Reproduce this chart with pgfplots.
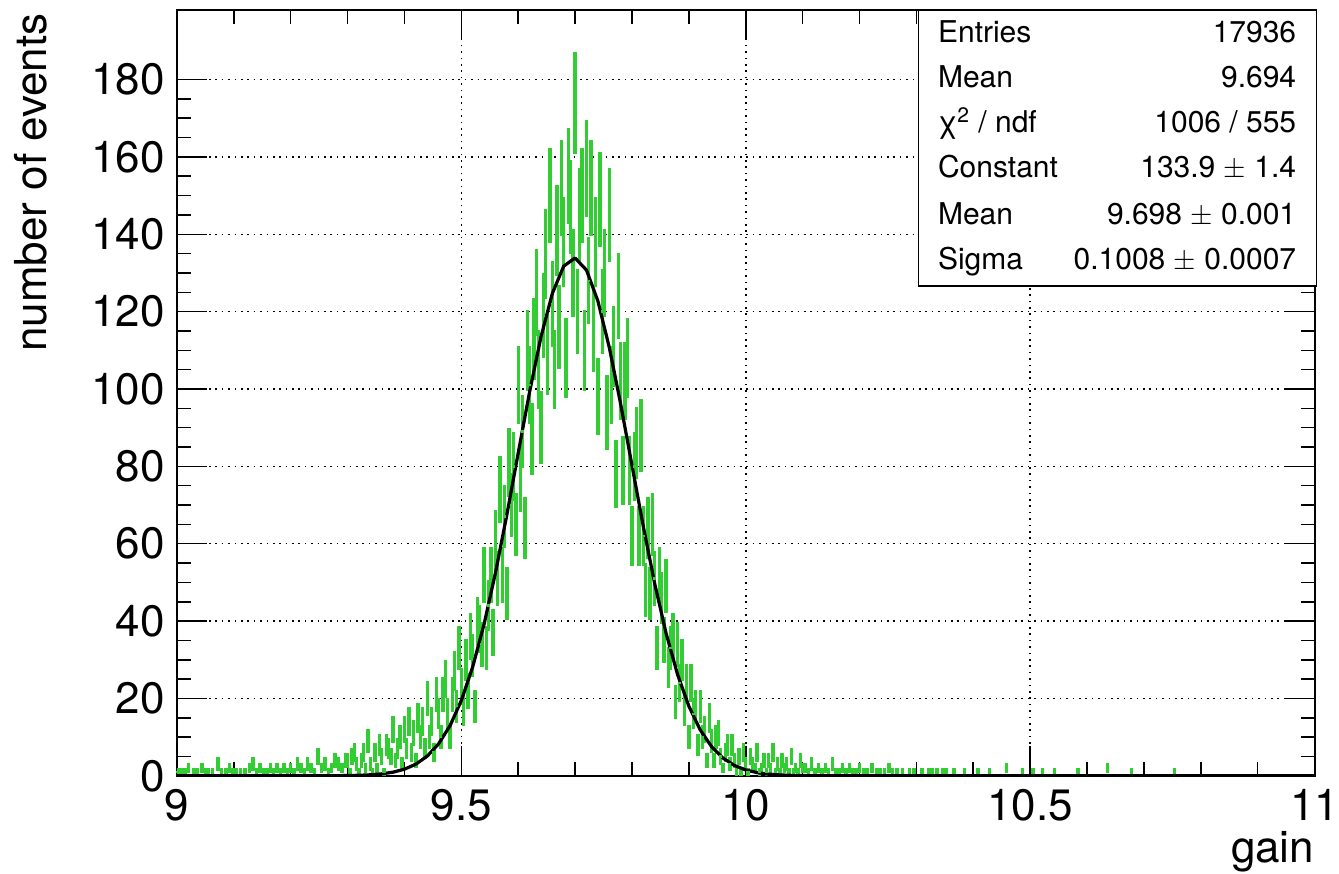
\documentclass[border=0pt]{standalone}
\usepackage{fontspec}
\setmainfont{TeX Gyre Heros}
\usepackage{pgfplots}
\usepackage{pgfplotstable}
\pgfplotsset{compat=1.18}
\definecolor{hgreen}{RGB}{50,205,50}

\pgfplotstableread{
x y
9.002 1
9.008 1
9.014 1
9.020 2
9.030 1
9.036 1
9.044 2
9.050 1
9.056 1
9.062 1
9.072 3
9.078 1
9.086 1
9.092 2
9.098 1
9.104 1
9.112 1
9.120 1
9.128 2
9.134 3
9.140 1
9.146 2
9.152 1
9.158 1
9.164 2
9.170 1
9.176 2
9.182 1
9.188 2
9.194 1
9.200 2
9.206 1
9.212 3
9.218 2
9.224 1
9.230 3
9.236 2
9.242 1
9.248 5
9.254 2
9.260 3
9.266 1
9.272 2
9.278 4
9.284 3
9.290 2
9.296 4
9.300 4
9.304 1
9.308 5
9.312 6
9.316 3
9.320 1
9.324 4
9.328 6
9.332 2
9.336 9
9.340 3
9.344 1
9.348 6
9.352 2
9.356 8
9.360 5
9.364 1
9.368 8
9.372 7
9.376 5
9.380 12
9.384 4
9.388 7
9.392 10
9.396 3
9.400 12
9.404 7
9.408 14
9.412 6
9.416 11
9.420 4
9.424 15
9.428 10
9.432 14
9.436 7
9.440 20
9.444 10
9.448 14
9.452 6
9.456 21
9.460 16
9.464 10
9.468 21
9.472 25
9.476 16
9.480 10
9.484 21
9.488 27
9.492 18
9.496 33
9.500 23
9.504 17
9.508 30
9.512 22
9.516 36
9.520 31
9.524 18
9.528 40
9.532 38
9.536 34
9.540 52
9.544 33
9.548 44
9.552 52
9.556 37
9.560 61
9.564 51
9.568 74
9.572 52
9.576 67
9.580 47
9.584 81
9.588 70
9.592 80
9.596 65
9.600 101
9.604 77
9.608 89
9.612 64
9.616 110
9.620 101
9.624 87
9.628 113
9.632 125
9.636 105
9.640 90
9.644 119
9.648 135
9.652 109
9.656 150
9.660 122
9.664 105
9.668 141
9.672 116
9.676 152
9.680 138
9.684 108
9.688 155
9.692 147
9.696 130
9.700 174
9.704 120
9.708 145
9.712 150
9.716 110
9.720 157
9.724 128
9.728 152
9.732 115
9.736 138
9.740 98
9.744 149
9.748 120
9.752 130
9.756 94
9.760 145
9.764 101
9.768 111
9.772 78
9.776 124
9.780 102
9.784 79
9.788 102
9.792 108
9.796 79
9.800 62
9.804 80
9.808 86
9.812 62
9.816 88
9.820 62
9.824 48
9.828 64
9.832 47
9.836 65
9.840 51
9.844 33
9.848 52
9.852 46
9.856 35
9.860 49
9.864 28
9.868 33
9.872 36
9.876 19
9.880 34
9.884 24
9.888 30
9.892 17
9.896 24
9.900 10
9.904 24
9.908 16
9.912 18
9.916 8
9.920 18
9.924 10
9.928 12
9.932 4
9.936 15
9.940 9
9.944 4
9.948 10
9.952 11
9.956 5
9.960 2
9.964 6
9.968 8
9.972 3
9.976 8
9.980 4
9.984 1
9.988 5
9.992 1
9.996 6
10.000 3
10.004 1
10.008 5
10.012 3
10.016 2
10.020 6
10.024 1
10.028 2
10.032 4
10.036 1
10.040 4
10.044 2
10.048 6
10.052 1
10.056 3
10.060 1
10.064 4
10.068 2
10.072 3
10.076 1
10.080 5
10.084 1
10.088 2
10.092 1
10.096 4
10.100 2
10.104 2
10.110 1
10.116 3
10.122 1
10.128 2
10.134 1
10.140 2
10.146 1
10.152 3
10.158 1
10.164 1
10.170 2
10.176 1
10.182 2
10.188 1
10.194 1
10.200 2
10.208 1
10.214 1
10.222 2
10.230 1
10.236 1
10.244 1
10.252 2
10.258 1
10.266 1
10.276 1
10.288 1
10.296 1
10.310 1
10.322 1
10.328 1
10.336 1
10.346 1
10.352 1
10.366 1
10.385 1
10.408 1
10.429 1
10.458 2
10.487 1
10.505 1
10.522 1
10.543 1
10.584 1
10.636 2
10.678 1
10.754 1
}\hist

\begin{document}
\begin{tikzpicture}
\begin{axis}[
  scale only axis, width=569pt, height=383pt,
  at={(0,0)}, anchor=south west,
  xmin=9, xmax=11, ymin=0, ymax=198,
  xtick={9,9.5,10,10.5,11},
  ytick={0,20,40,60,80,100,120,140,160,180},
  minor x tick num=4, minor y tick num=3,
  tick align=inside,
  xtick pos=both, ytick pos=both,
  major tick length=15pt, minor tick length=7pt,
  every tick/.style={black, line width=0.8pt},
  axis line style={line width=1pt},
  grid=major,
  major grid style={black, line width=0.8pt, dash pattern=on 0.8pt off 2.4pt},
  /pgf/number format/assume math mode=true,
  ticklabel style={font=\fontsize{22}{26}\selectfont, inner sep=0pt},
  xticklabel style={anchor=north, yshift=-6.5pt},
  yticklabel style={anchor=east, xshift=-6pt},
  clip=true,
]
\addplot[hgreen, only marks, mark=-, mark size=0.8pt, mark options={line width=1.2pt, draw=hgreen, fill=hgreen},
  error bars/.cd, y dir=both, y explicit, error mark=none,
  error bar style={line width=1.7pt, hgreen}]
  table[x=x, y=y, y error expr=sqrt(\thisrow{y})] {\hist};
\addplot[black, line width=1.6pt, line join=round] coordinates {
(9.00,0) (9.20,0) (9.28,0.02) (9.30,0.055) (9.32,0.118) (9.34,0.244) (9.36,0.485)
(9.38,0.924) (9.40,1.69) (9.42,2.99) (9.44,5.06) (9.46,8.24) (9.48,12.91)
(9.50,19.46) (9.52,28.17) (9.54,39.21) (9.56,52.46) (9.58,67.47) (9.60,83.47)
(9.62,99.26) (9.64,113.47) (9.66,124.72) (9.68,131.78) (9.70,133.87) (9.72,130.75)
(9.74,122.77) (9.76,110.82) (9.78,96.18) (9.80,80.25) (9.82,64.38) (9.84,49.64)
(9.86,36.81) (9.88,26.24) (9.90,17.98) (9.92,11.84) (9.94,7.50) (9.96,4.57)
(9.98,2.67) (10.00,1.50) (10.02,0.81) (10.04,0.42) (10.06,0.21) (10.08,0.10)
(10.10,0.05) (10.12,0.02) (10.20,0) (11.00,0)
};
\end{axis}
% stats box
\filldraw[fill=white, draw=black, line width=0.8pt] (371pt,245pt) rectangle (570pt,383pt);
\begin{scope}[every node/.style={inner sep=0pt, font=\fontsize{15}{17}\selectfont}]
\node[anchor=base west] at (380.5pt,366.5pt) {Entries};
\node[anchor=base east] at (560pt,366.5pt) {17936};
\node[anchor=base west] at (380.5pt,344pt) {Mean};
\node[anchor=base east] at (560pt,344pt) {9.694};
\node[anchor=base west] at (380.5pt,321.5pt) {χ\textsuperscript{2} / ndf};
\node[anchor=base east] at (560pt,321.5pt) {1006 / 555};
\node[anchor=base west] at (380.5pt,299pt) {Constant};
\node[anchor=base east] at (560pt,299pt) {133.9 \(\pm\) 1.4};
\node[anchor=base west] at (380.5pt,275.5pt) {Mean};
\node[anchor=base east] at (560pt,275.5pt) {9.698 \(\pm\) 0.001};
\node[anchor=base west] at (380.5pt,253pt) {Sigma};
\node[anchor=base east] at (560pt,253pt) {0.1008 \(\pm\) 0.0007};
\end{scope}
% axis titles
\node[rotate=90, anchor=base east, inner sep=0pt, font=\fontsize{22}{26}\selectfont] at (-65pt,381.5pt) {number of events};
\node[anchor=base east, inner sep=0pt, font=\fontsize{22}{26}\selectfont] at (569pt,-43.5pt) {gain};
% page extent
\path (-88.5pt,-49pt) rectangle (581pt,388pt);
\end{tikzpicture}
\end{document}
